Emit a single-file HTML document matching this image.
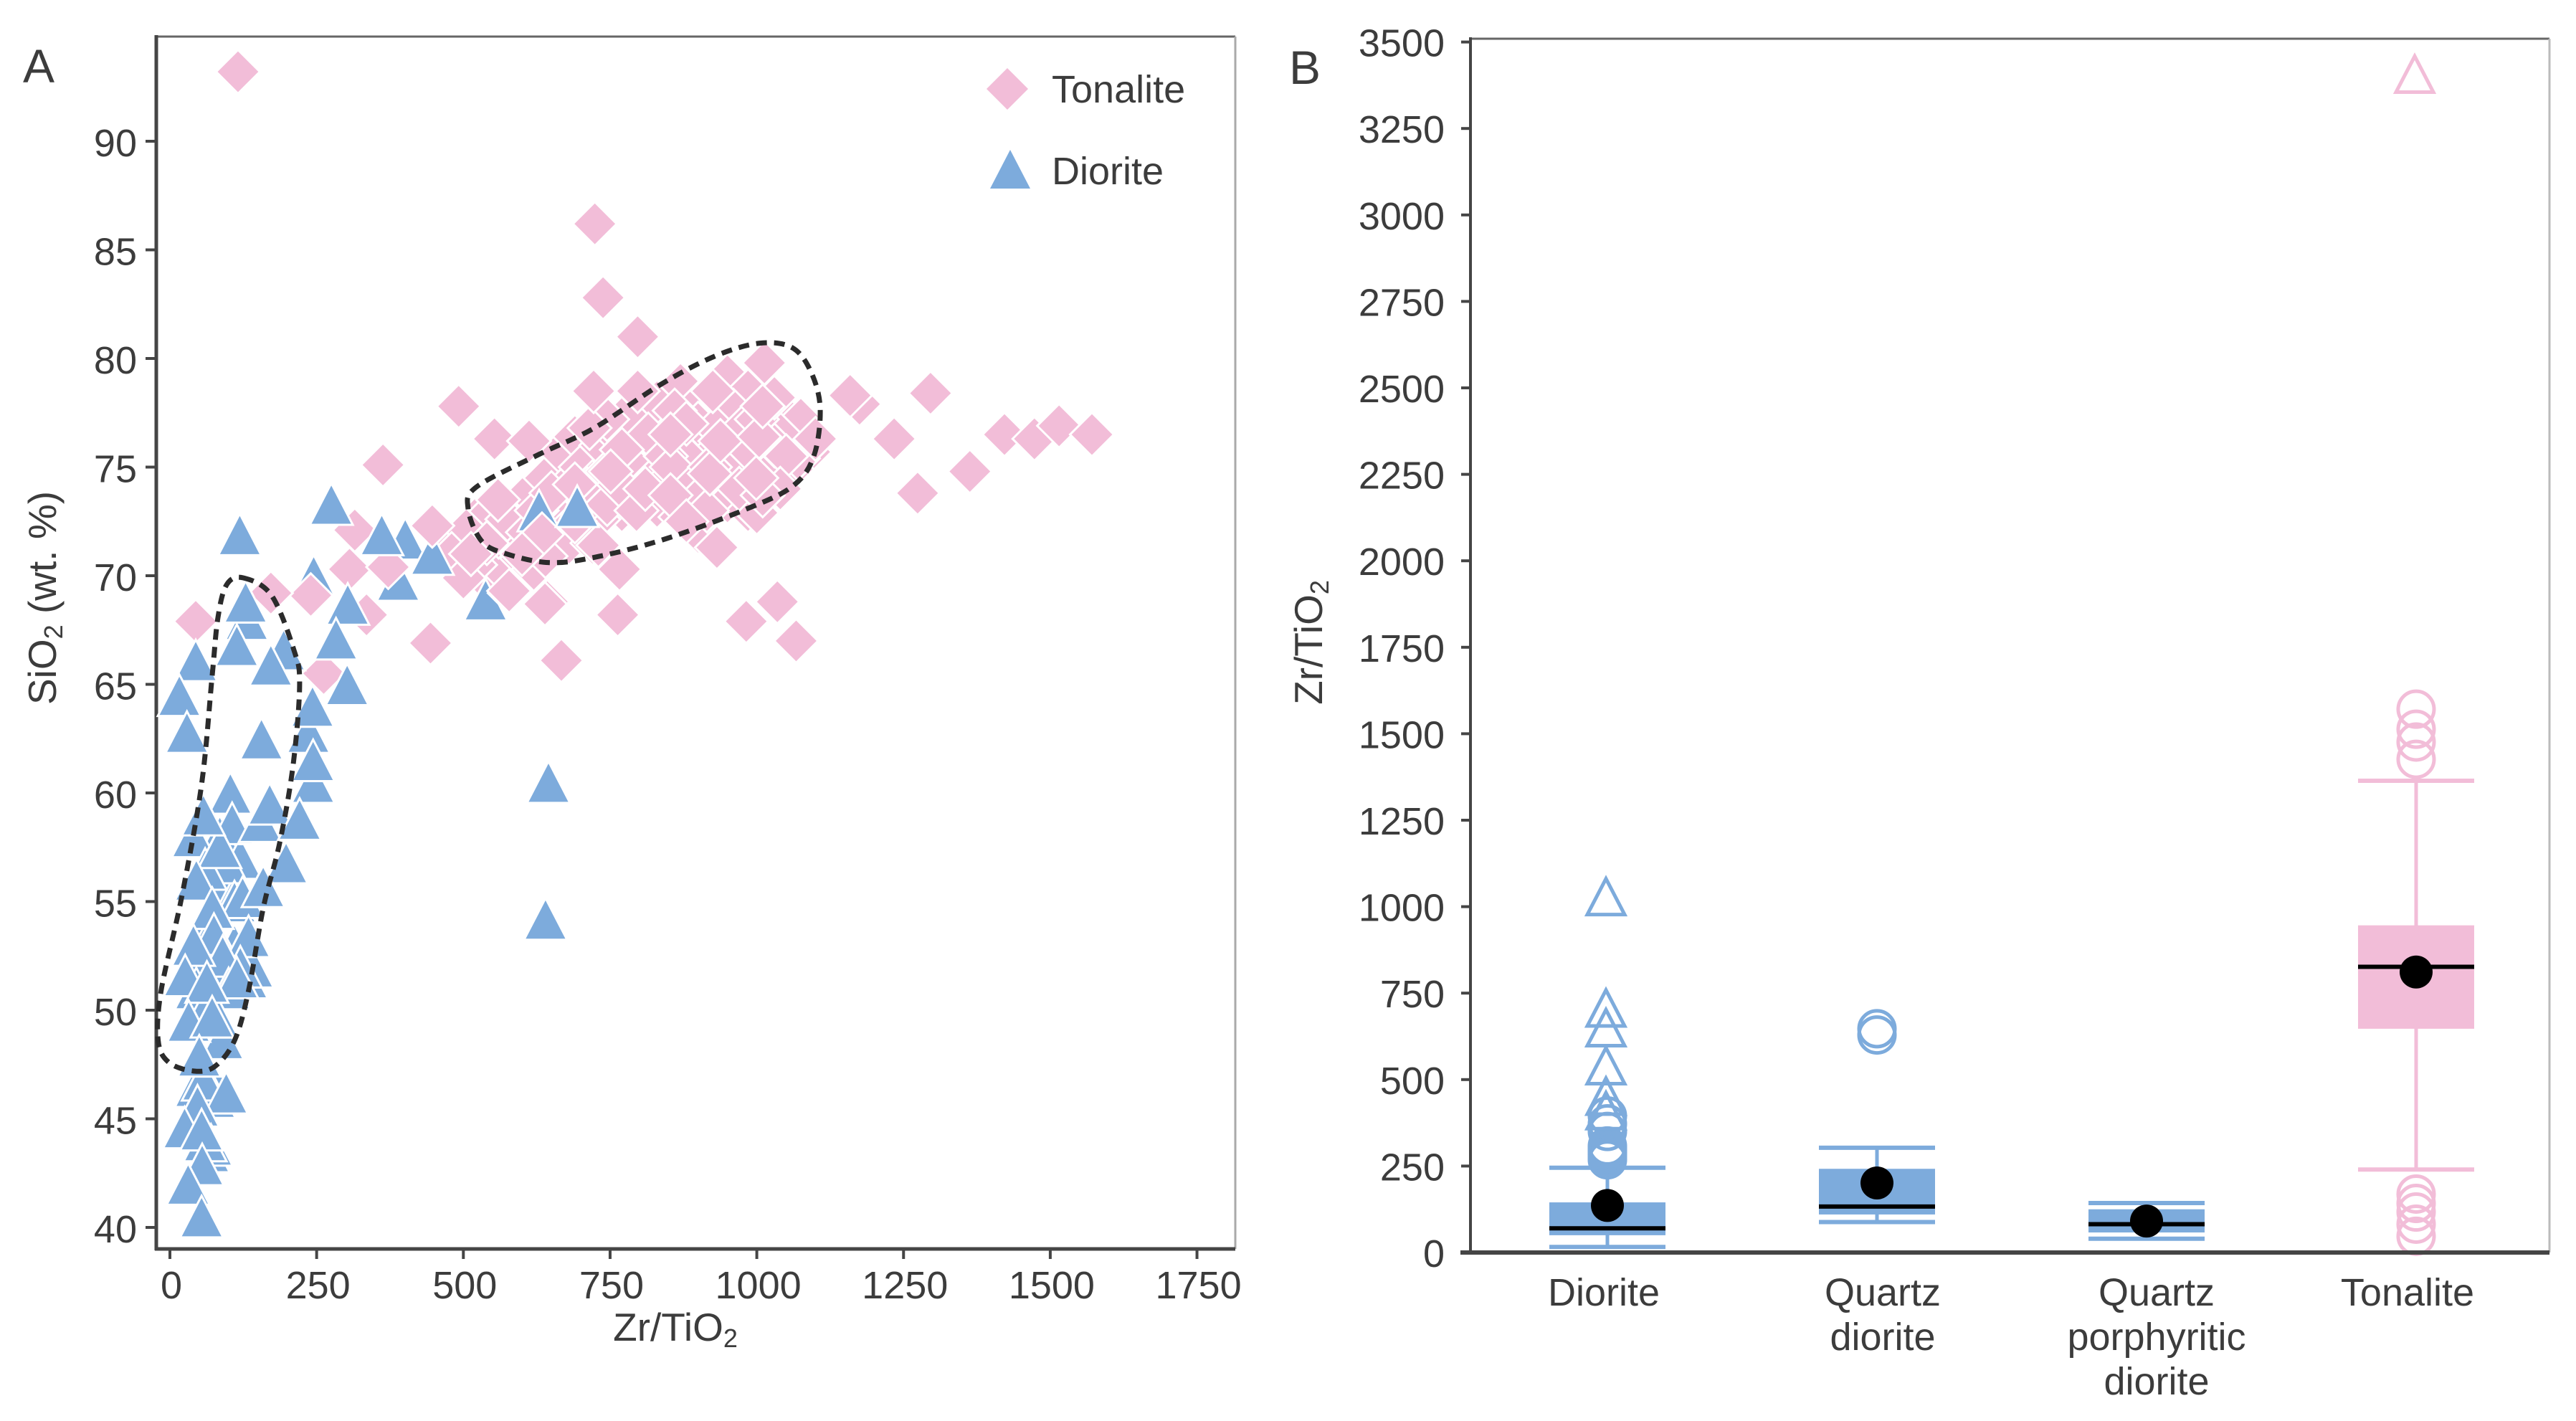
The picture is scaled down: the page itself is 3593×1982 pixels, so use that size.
<!DOCTYPE html>
<html lang="en">
<head>
<meta charset="utf-8">
<title>Zr/TiO2 scatter and box plots</title>
<style>
html,body{margin:0;padding:0;background:#fff;width:3593px;height:1982px;overflow:hidden}
svg{display:block}
text{font-family:"Liberation Sans",Arial,sans-serif;fill:#3c3c3c;font-size:54px}
</style>
</head>
<body>
<svg id="chart" xmlns="http://www.w3.org/2000/svg" width="3593" height="1982" viewBox="0 0 3593 1982">
  <rect x="0" y="0" width="3593" height="1982" fill="#fff"/>
  <g id="panelA"></g>
  <g id="panelB"></g>
  <text x="32" y="115" style="font-size:66px">A</text>
  <text x="1798" y="117" style="font-size:66px">B</text>
  <text x="942" y="1870" text-anchor="middle" style="font-size:55px">Zr/TiO<tspan font-size="36" dy="9">2</tspan></text>
  <text transform="translate(78,834) rotate(-90)" text-anchor="middle" style="font-size:55px">SiO<tspan font-size="36" dy="9">2</tspan><tspan dy="-9"> (wt. %)</tspan></text>
  <text transform="translate(1844,896) rotate(-90)" text-anchor="middle" style="font-size:55px">Zr/TiO<tspan font-size="36" dy="9">2</tspan></text>
</svg>
<script>
var scatterXTicks = [0, 250, 500, 750, 1000, 1250, 1500, 1750];
var scatterYTicks = [40, 45, 50, 55, 60, 65, 70, 75, 80, 85, 90];
var tonaliteBackX = [520,545,470,490,505,530,560,600,620,590,610,640,665,690,670,700,720,735,760,780,800,830,870,900,950,985,940,960,1040,1075,1090,1060,1040,1020,970,905,880,820,790,770,830,870,900,950,985,1000,730,700,660,680,720,640,780,840,900,860,1070,1100,1175,
  560,575,610,625,650,690,710,745,745,765,795,810,815,845,855,885,895,915,930,920,975,985,1030,1050,1000,1030,925,880,770,745,715,690,970,1040,1010,520,540,480,500];
var tonaliteBackY = [72.6,72.9,71.7,70.5,72.1,70,70.4,70.8,70.3,72.5,73.8,74.5,75.7,76.4,74,75,74.3,76,76.5,77.5,76,78,78.8,77.9,79.2,78.5,78,77.6,77.6,77.2,75.7,74.9,76.5,75,75.2,75.9,75.5,75,74.5,73,73.2,72.7,72,73.4,73,72.9,72.6,73,72.8,71.5,71.5,70.9,75.3,74.2,77,77.6,75.4,76.3,77.9,
  71.8,72.6,72,73,73.8,72.5,74,74.8,73.3,74.2,73,74,76.5,75.5,75,74,73.4,73,76.8,75,76.8,75.8,76,75.5,77.2,78.2,78.5,77,75.8,77.2,76.8,74.2,74,74,73.7,70.5,71.5,71,69.9];
var dioriteMidX = [245,401,389,447,538,629];
var dioriteMidY = [70,71.7,69.8,71,68.9,73];
var tonaliteX = [116,724,738,797,722,492,553,363,612,797,1013,1159,1296,1234,1422,1473,1515,1571,1363,1274,932,766,763,643,667,444,579,1035,982,1067,240,44,172,306,262,315,372,335,
  447,513,578,634,559,730,751,853,920,999,853,938,1004,1010,880,639,600];
var tonaliteY = [93.2,86.2,82.8,81,78.5,77.8,76.3,75.1,76.2,78.5,79.8,78.3,78.4,76.3,76.5,76.3,76.9,76.5,74.8,73.8,71.3,70.3,68.2,68.8,66.1,66.9,69.2,68.8,67.9,67,69.1,67.9,69.2,70.3,65.5,72.1,70.4,68.2,
  72.3,71,69.3,71.9,73.5,71.4,74.8,73.7,74.7,74.5,76.5,76.2,76.4,77.8,72.5,68.7,71];
var dioriteX = [100,85,120,75,90,105,65,60,80,50,110,130,140,45,70,60,45,75,40,65,
  131,194,236,244,40,103,106,154,170,198,96,60,85,45,110,124,159,72,75,134,120,90,100,40,114,60,89,57,96,47,70,60,80,
  119,275,361,303,283,694,129,114,44,16,172,302,243,29,156,244,57,221,26,63,32,72,50,25,54,55,31,54,645,640];
var dioriteY = [57.5,58,57,56,55.5,55,54,53,52,52,53,51.5,52,51,47,46,46.5,46,45,43.5,
  68,66.6,62.8,60.5,58,60,58.6,58.7,59.5,56.8,56.8,56.5,57.5,56,55,55.2,55.7,54.7,53.5,53.4,52,52.5,51,53,51.5,50,48.7,46.8,46.2,45.6,43.8,44,49.7,
  71.9,73.3,71.9,68.7,67.1,73.2,68.8,66.8,66.1,64.5,65.9,65,64,62.8,62.5,61.5,59,58.8,51.6,51.3,49.5,49.7,47.9,44.6,44.5,42.9,42,40.5,60.5,54.2];
var hullDioriteX = [125,173,211,221,210,187,159,134,110,76,40,-2,-20,-15,20,54,72,82,97];
var hullDioriteY = [69.9,69.1,66.6,65,61.3,57.7,54.7,50.9,48.6,47.4,47.2,47.6,48.6,50.9,55.2,60.4,65.4,68.1,69.6];
var hullTonaliteX = [508,523,630,723,836,928,1004,1060,1092,1108,1097,1060,976,845,733,649,574,531];
var hullTonaliteY = [73.1,74.1,75.6,76.8,78.8,80.1,80.7,80.5,79.4,77.7,75.5,74.1,73,71.7,70.9,70.6,71,71.6];

var boxYTicks = [0,250,500,750,1000,1250,1500,1750,2000,2250,2500,2750,3000,3250,3500];
var boxCategories = [["Diorite"],["Quartz","diorite"],["Quartz","porphyritic","diorite"],["Tonalite"]];
var boxGroupColor = ["blue","blue","blue","pink"];
var boxQ1 = [50,110,58,647];
var boxMedian = [70,133,82,826];
var boxQ3 = [145,242,125,946];
var boxMean = [136,201,91,811];
var whiskerLow = [16,88,40,240];
var whiskerHigh = [245,303,143,1364];
var circleOutliers = [[268,278,285,290,295,300,308,350,372,395],[629,647],[],[47,82,117,142,169,1426,1476,1513,1571]];
var triangleOutliers = [[410,452,540,650,707,1029],[],[],[3407]];

var BLUE = "#7dabdc", PINK = "#f2bdd8", AXIS = "#454545";
var NS = "http://www.w3.org/2000/svg";
function node(tag, parent){ var el = document.createElementNS(NS, tag); parent.appendChild(el); return el; }

/* axis functions */
function ax(v){ return 237 + v * 0.8186; }
function ay(v){ return 1712 - (v - 40) * 30.3; }
function by(v){ return 1747 - v * 0.4824; }
function bx(i){ return 2242 + i * 376; }

function diamondPath(cx, cy, h){ return "M"+cx+" "+(cy-h)+"L"+(cx+h)+" "+cy+"L"+cx+" "+(cy+h)+"L"+(cx-h)+" "+cy+"Z"; }
function trianglePath(cx, cy, h){ return "M"+cx+" "+(cy-h)+"L"+(cx+h+1)+" "+(cy+h)+"L"+(cx-h-1)+" "+(cy+h)+"Z"; }
function smoothClosed(pts){
  var n = pts.length, d = "M"+pts[0][0]+" "+pts[0][1];
  for (var i = 0; i < n; i++){
    var p0 = pts[(i-1+n)%n], p1 = pts[i], p2 = pts[(i+1)%n], p3 = pts[(i+2)%n];
    d += "C"+(p1[0]+(p2[0]-p0[0])/6)+" "+(p1[1]+(p2[1]-p0[1])/6)+" "+(p2[0]-(p3[0]-p1[0])/6)+" "+(p2[1]-(p3[1]-p1[1])/6)+" "+p2[0]+" "+p2[1];
  }
  return d+"Z";
}
function line(parent, x1, y1, x2, y2, color, w){
  var l = node("line", parent);
  l.setAttribute("x1", x1); l.setAttribute("y1", y1); l.setAttribute("x2", x2); l.setAttribute("y2", y2);
  l.setAttribute("stroke", color); l.setAttribute("stroke-width", w);
  return l;
}
function label(parent, x, y, str, anchor){
  var t = node("text", parent);
  t.setAttribute("x", x); t.setAttribute("y", y); t.setAttribute("text-anchor", anchor);
  t.textContent = str;
  return t;
}

/* ---------- Panel A ---------- */
var A = document.getElementById("panelA");
var el, i, j;
el = line(A, 218, 51, 1723, 51, "#666", 3);


el = line(A, 1723, 51, 1723, 1742, "#aaa", 3);


el = line(A, 218, 49, 218, 1744, AXIS, 5);


el = line(A, 216, 1742, 1723, 1742, AXIS, 5);



scatterXTicks.forEach(function(v){
  var tick = line(A, ax(v), 1742, ax(v), 1756, AXIS, 4);
  
  
  var lab = label(A, ax(v) + 2, 1811, String(v), "middle");
  
  
});
scatterYTicks.forEach(function(v){
  var tick = line(A, 203, ay(v), 218, ay(v), AXIS, 4);
  
  
  var lab = label(A, 191, ay(v) + 21, String(v), "end");
  
  
});

for (i = 0; i < tonaliteBackX.length; i++){
  el = node("path", A);
  el.setAttribute("d", diamondPath(ax(tonaliteBackX[i]), ay(tonaliteBackY[i]), 30.5));
  el.setAttribute("fill", PINK); el.setAttribute("stroke", "#fff"); el.setAttribute("stroke-width", 3);
  
  
}
for (i = 0; i < dioriteMidX.length; i++){
  el = node("path", A);
  el.setAttribute("d", trianglePath(ax(dioriteMidX[i]), ay(dioriteMidY[i]), 29));
  el.setAttribute("fill", BLUE); el.setAttribute("stroke", "#fff"); el.setAttribute("stroke-width", 3);
  
  
}
for (i = 0; i < tonaliteX.length; i++){
  el = node("path", A);
  el.setAttribute("d", diamondPath(ax(tonaliteX[i]), ay(tonaliteY[i]), 30.5));
  el.setAttribute("fill", PINK); el.setAttribute("stroke", "#fff"); el.setAttribute("stroke-width", 3);
  
  
}
for (i = 0; i < dioriteX.length; i++){
  el = node("path", A);
  el.setAttribute("d", trianglePath(ax(dioriteX[i]), ay(dioriteY[i]), 29));
  el.setAttribute("fill", BLUE); el.setAttribute("stroke", "#fff"); el.setAttribute("stroke-width", 3);
  
  
}
function hull(xs, ys){
  var pts = xs.map(function(x, k){ return [ax(x), ay(ys[k])]; });
  var p = node("path", A);
  p.setAttribute("d", smoothClosed(pts));
  p.setAttribute("fill", "none"); p.setAttribute("stroke", "#2b2b2b");
  p.setAttribute("stroke-width", 7); p.setAttribute("stroke-dasharray", "15 10");
  return p;
}
el = hull(hullDioriteX, hullDioriteY);


el = hull(hullTonaliteX, hullTonaliteY);



el = node("path", A);
el.setAttribute("d", diamondPath(1405, 124, 29));
el.setAttribute("fill", PINK);


el = label(A, 1467, 143, "Tonalite", "start");


el = node("path", A);
el.setAttribute("d", trianglePath(1409, 236, 27));
el.setAttribute("fill", BLUE);


el = label(A, 1467, 257, "Diorite", "start");



/* ---------- Panel B ---------- */
var B = document.getElementById("panelB");
el = line(B, 2050, 54, 3556, 54, "#666", 3);


el = line(B, 3556, 54, 3556, 1747, "#bbb", 3);


el = line(B, 2051, 52, 2051, 1747, AXIS, 4);


boxYTicks.forEach(function(v){
  var tick = line(B, 2038, by(v), 2051, by(v), AXIS, 4);
  
  
  var lab = label(B, 2015, by(v) + 20, String(v), "end");
  
  
});

var labelCenters = [2237, 2626, 3008, 3358];
boxCategories.forEach(function(lines, k){
  var color = boxGroupColor[k] === "pink" ? PINK : BLUE;
  var c = bx(k), hw = 81;
  var stem = line(B, c, by(whiskerLow[k]), c, by(whiskerHigh[k]), color, 5);
  
  
  var capLow = line(B, c - hw, by(whiskerLow[k]), c + hw, by(whiskerLow[k]), color, 6);
  
  
  var capHigh = line(B, c - hw, by(whiskerHigh[k]), c + hw, by(whiskerHigh[k]), color, 6);
  
  
  var box = node("rect", B);
  box.setAttribute("x", c - hw); box.setAttribute("width", 2 * hw);
  box.setAttribute("y", by(boxQ3[k])); box.setAttribute("height", by(boxQ1[k]) - by(boxQ3[k]));
  box.setAttribute("fill", color);
  
  
  var med = line(B, c - hw, by(boxMedian[k]), c + hw, by(boxMedian[k]), "#000", 6);
  
  
  circleOutliers[k].forEach(function(v){
    var o = node("circle", B);
    o.setAttribute("cx", c); o.setAttribute("cy", by(v)); o.setAttribute("r", 25);
    o.setAttribute("fill", "none"); o.setAttribute("stroke", color); o.setAttribute("stroke-width", 5);
    
    
  });
  triangleOutliers[k].forEach(function(v){
    var o = node("path", B);
    o.setAttribute("d", trianglePath(c - 2, by(v), 25));
    o.setAttribute("fill", "none"); o.setAttribute("stroke", color); o.setAttribute("stroke-width", 5);
    
    
  });
  var m = node("circle", B);
  m.setAttribute("cx", c); m.setAttribute("cy", by(boxMean[k])); m.setAttribute("r", 23);
  m.setAttribute("fill", "#000");
  
  
  lines.forEach(function(str, li){
    var t = label(B, labelCenters[k], 1821 + li * 62, str, "middle");
    
    
  });
});
el = line(B, 2037, 1747, 3556, 1747, AXIS, 6);


</script>
</body>
</html>
